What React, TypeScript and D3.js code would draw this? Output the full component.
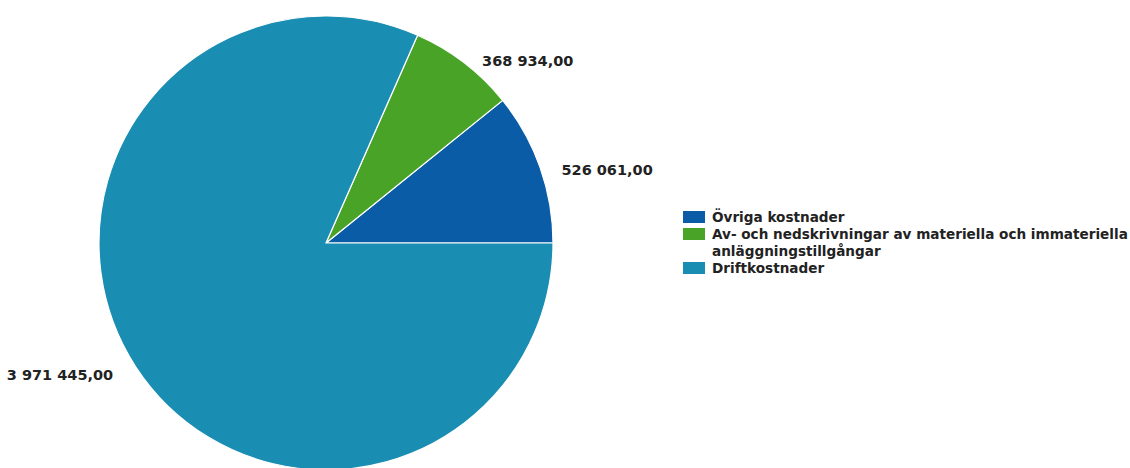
import React from "react";
import * as d3 from "d3";

const categories = [
  "Övriga kostnader",
  "Av- och nedskrivningar av materiella och immateriella anläggningstillgångar",
  "Driftkostnader",
];
const values = [526061.0, 368934.0, 3971445.0];
const valueLabels = ["526 061,00", "368 934,00", "3 971 445,00"];
const legendLines = [
  ["Övriga kostnader"],
  ["Av- och nedskrivningar av materiella och immateriella", "anläggningstillgångar"],
  ["Driftkostnader"],
];
const colors = ["#0b5ca6", "#48a326", "#1a8db3"];

const W = 1130;
const H = 468;
const cx = 326;
const cy = 243;
const R = 227;
const FONT = "'DejaVu Sans', Verdana, sans-serif";

export default function App() {
  const pie = d3
    .pie<number>()
    .sort(null)
    .startAngle(Math.PI / 2)
    .endAngle(Math.PI / 2 - 2 * Math.PI);
  const arcs = pie(values);
  const arc = d3.arc<d3.PieArcDatum<number>>().innerRadius(0).outerRadius(R);

  const legendX = 683;
  const legendY0 = 211;
  const lineH = 17;

  let row = 0;
  const legendItems = legendLines.map((lines, i) => {
    const y = legendY0 + row * lineH;
    row += lines.length;
    return { lines, y, color: colors[i], name: categories[i] };
  });

  const labelPos = (a: d3.PieArcDatum<number>, i: number) => {
    const mid = (a.startAngle + a.endAngle) / 2;
    if (i === 2) {
      const ang = -Math.PI / 2 - 0.559;
      return {
        x: Math.sin(ang) * (R + 24),
        y: -Math.cos(ang) * (R + 24),
        anchor: "end",
      };
    }
    return {
      x: Math.sin(mid) * (R + 10) + 12,
      y: -Math.cos(mid) * (R + 10) + 7,
      anchor: "start",
    };
  };

  return (
    <svg width={W} height={H} style={{ position: "absolute", left: 0, top: 0, background: "#fff" }}>
      <g transform={`translate(${cx},${cy})`}>
        {arcs.map((a, i) => (
          <path key={i} d={arc(a) || ""} fill={colors[i]} stroke="#ffffff" strokeWidth={1.2} />
        ))}
        {arcs.map((a, i) => {
          const p = labelPos(a, i);
          return (
            <text
              key={i}
              x={p.x}
              y={p.y}
              textAnchor={p.anchor as any}
              dominantBaseline="middle"
              fontFamily={FONT}
              fontWeight="bold"
              fontSize={14.5}
              fill="#222"
            >
              {valueLabels[i]}
            </text>
          );
        })}
      </g>
      <g>
        {legendItems.map((it, i) => (
          <g key={i}>
            <rect x={legendX} y={it.y} width={22} height={12} fill={it.color} />
            {it.lines.map((l, j) => (
              <text
                key={j}
                x={legendX + 29}
                y={it.y + 11 + j * lineH}
                fontFamily={FONT}
                fontWeight="bold"
                fontSize={13.6}
                fill="#222"
              >
                {l}
              </text>
            ))}
          </g>
        ))}
      </g>
    </svg>
  );
}
